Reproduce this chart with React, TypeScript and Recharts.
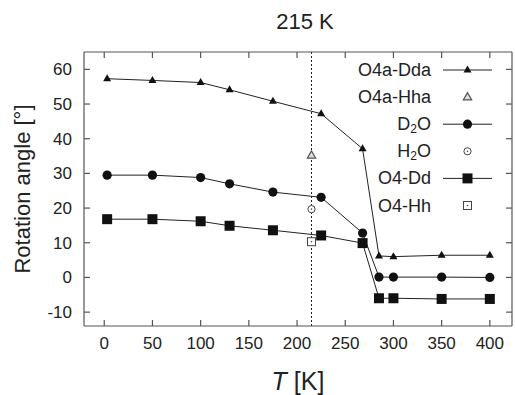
import React from 'react';
import { LineChart, Line, XAxis, YAxis, ReferenceLine, Legend } from 'recharts';

// temperatures (K)
const T_RUN = [3, 50, 100, 130, 175, 225, 268, 285, 300, 350, 400];
const T_H = [215];

// rotation angles (deg)
const o4aDda = [57.3, 56.8, 56.2, 54.1, 50.8, 47.2, 37.1, 6.2, 6.0, 6.4, 6.4];
const o4aHha = [35.2];
const d2o = [29.5, 29.5, 28.8, 27.0, 24.6, 23.1, 12.8, 0.1, 0.1, 0.1, 0.0];
const h2o = [19.7];
const o4Dd = [16.8, 16.8, 16.2, 14.9, 13.6, 12.1, 9.9, -6.0, -6.0, -6.2, -6.2];
const o4Hh = [10.3];

const xTicks = [0, 50, 100, 150, 200, 250, 300, 350, 400];
const yTicks = [-10, 0, 10, 20, 30, 40, 50, 60];

const FONT = '"Liberation Sans", Arial, Helvetica, sans-serif';
const FRAME = '#555';

const toPoints = (xs: number[], ys: number[]) => xs.map((T, i) => ({ T, v: ys[i] }));

type Kind = 'tri' | 'triOpen' | 'circle' | 'circleOpen' | 'square' | 'squareOpen';

const series: { name: string; kind: Kind; line: boolean; data: { T: number; v: number }[] }[] = [
  { name: 'O4a-Dda', kind: 'tri', line: true, data: toPoints(T_RUN, o4aDda) },
  { name: 'O4a-Hha', kind: 'triOpen', line: false, data: toPoints(T_H, o4aHha) },
  { name: 'D2O', kind: 'circle', line: true, data: toPoints(T_RUN, d2o) },
  { name: 'H2O', kind: 'circleOpen', line: false, data: toPoints(T_H, h2o) },
  { name: 'O4-Dd', kind: 'square', line: true, data: toPoints(T_RUN, o4Dd) },
  { name: 'O4-Hh', kind: 'squareOpen', line: false, data: toPoints(T_H, o4Hh) },
];

const Marker = ({ kind, cx, cy }: { kind: Kind; cx: number; cy: number }) => {
  switch (kind) {
    case 'tri':
      return <polygon points={`${cx},${cy - 4.5} ${cx - 4},${cy + 2.5} ${cx + 4},${cy + 2.5}`} fill="#111" />;
    case 'triOpen':
      return (
        <polygon
          points={`${cx},${cy - 4.5} ${cx - 4.2},${cy + 2.8} ${cx + 4.2},${cy + 2.8}`}
          fill="#ddd"
          stroke="#555"
          strokeWidth={1.2}
        />
      );
    case 'circle':
      return <circle cx={cx} cy={cy} r={4.6} fill="#111" />;
    case 'circleOpen':
      return (
        <g>
          <circle cx={cx} cy={cy} r={3.6} fill="#fff" stroke="#444" strokeWidth={1} />
          <circle cx={cx} cy={cy} r={0.8} fill="#444" />
        </g>
      );
    case 'square':
      return <rect x={cx - 5} y={cy - 5} width={10} height={10} fill="#111" />;
    case 'squareOpen':
      return (
        <g>
          <rect x={cx - 4} y={cy - 4} width={8} height={8} fill="#fff" stroke="#444" strokeWidth={1} />
          <circle cx={cx} cy={cy} r={0.8} fill="#444" />
        </g>
      );
  }
};

const LegendLabel = ({ name, x, y }: { name: string; x: number; y: number }) => {
  const sub = name.match(/^(\w)2O$/);
  return (
    <text x={x} y={y} textAnchor="end" dominantBaseline="central" fontSize={18} fill="#222" fontFamily={FONT}>
      {sub ? (
        <>
          {sub[1]}
          <tspan fontSize={12} dy={5}>2</tspan>
          <tspan dy={-5}>O</tspan>
        </>
      ) : (
        name
      )}
    </text>
  );
};

const renderLegend = () => (
  <svg width={170} height={165}>
    {series.map((s, i) => {
      const y = 14 + i * 27.1;
      return (
        <g key={s.name}>
          <LegendLabel name={s.name} x={91} y={y} />
          {s.line && <line x1={103} x2={152} y1={y} y2={y} stroke="#222" strokeWidth={1} />}
          <Marker kind={s.kind} cx={127.5} cy={y} />
        </g>
      );
    })}
  </svg>
);

const YLabel = ({ viewBox }: any) => {
  const cy = viewBox.y + viewBox.height / 2;
  return (
    <text x={22} y={cy} transform={`rotate(-90, 22, ${cy})`} textAnchor="middle" dominantBaseline="central"
      fontSize={22} fill="#222" fontFamily={FONT}>
      Rotation angle [°]
    </text>
  );
};

const XLabel = ({ viewBox }: any) => {
  const cx = viewBox.x + viewBox.width / 2;
  return (
    <text x={cx} y={390} textAnchor="middle" fontSize={25} fill="#222" fontFamily={FONT}>
      <tspan fontStyle="italic">T</tspan> [K]
    </text>
  );
};

export default function App() {
  const tickStyle = { fontSize: 17, fill: '#222', fontFamily: FONT };
  const frame = { stroke: FRAME, strokeWidth: 1.2 };
  return (
    <div style={{ position: 'absolute', left: 0, top: 0, width: 515, height: 395, background: '#fff' }}>
      <div
        style={{
          position: 'absolute', left: 255, top: 9, width: 100, textAlign: 'center',
          fontSize: 22, fontFamily: FONT, color: '#222', zIndex: 2,
        }}
      >
        215 K
      </div>
      <LineChart width={515} height={395} margin={{ top: 51, right: 2, bottom: 0, left: 0 }}>
        <XAxis
          xAxisId="b" type="number" dataKey="T" domain={[-21, 423]} ticks={xTicks} allowDataOverflow
          orientation="bottom" height={69} axisLine={frame} tickLine={frame} tickSize={-6} tickMargin={17}
          tick={tickStyle} label={<XLabel />}
        />
        <XAxis
          xAxisId="t" type="number" dataKey="T" domain={[-21, 423]} ticks={xTicks} allowDataOverflow
          orientation="top" height={1} axisLine={frame} tickLine={frame} tickSize={-6} tickFormatter={() => ''}
        />
        <YAxis
          yAxisId="l" type="number" domain={[-14, 65]} ticks={yTicks} allowDataOverflow width={84}
          axisLine={frame} tickLine={frame} tickSize={-6} tickMargin={18} tick={tickStyle} label={<YLabel />}
        />
        <YAxis
          yAxisId="r" orientation="right" type="number" domain={[-14, 65]} ticks={yTicks} allowDataOverflow
          width={1} axisLine={frame} tickLine={frame} tickSize={-6} tickFormatter={() => ''}
        />
        <ReferenceLine xAxisId="b" yAxisId="l" x={215} stroke="#222" strokeDasharray="2 2" strokeWidth={1} />
        {series.map((s) => (
          <Line
            key={s.name}
            xAxisId="b"
            yAxisId="l"
            data={s.data}
            dataKey="v"
            name={s.name}
            stroke={s.line ? '#222' : 'none'}
            strokeWidth={1}
            isAnimationActive={false}
            dot={(p: any) => <Marker key={`${s.name}-${p.index}`} kind={s.kind} cx={p.cx} cy={p.cy} />}
            activeDot={false}
          />
        ))}
        <Legend
          content={renderLegend}
          layout="vertical"
          align="center"
          verticalAlign="middle"
          wrapperStyle={{ position: 'absolute', left: 340, top: 56, width: 170, height: 165 }}
        />
      </LineChart>
    </div>
  );
}
